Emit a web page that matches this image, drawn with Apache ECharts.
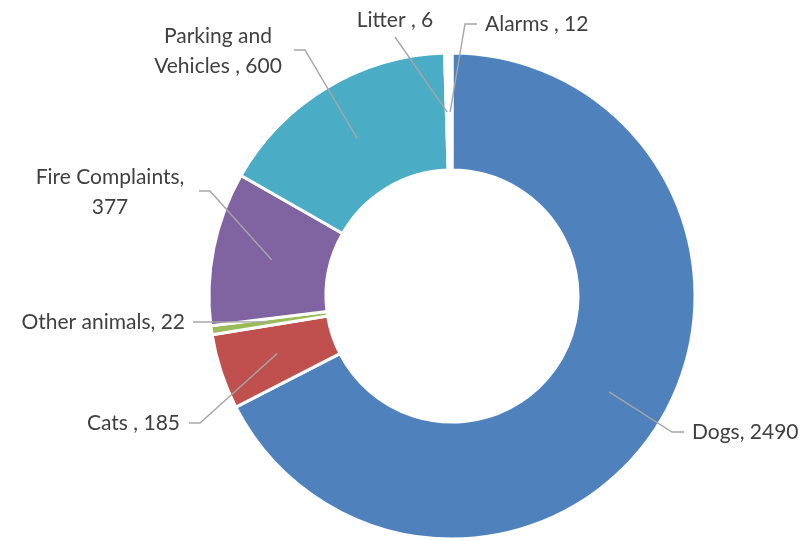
<!DOCTYPE html>
<html>
<head>
<meta charset="utf-8">
<script src="https://cdn.jsdelivr.net/npm/echarts@6/dist/echarts.min.js"></script>
<style>
html,body{margin:0;padding:0;background:#ffffff;}
#chart{width:802px;height:541px;}
</style>
</head>
<body>
<div id="chart"></div>
<script>
// ---- data ----
const categories = ['Dogs', 'Cats', 'Other animals', 'Fire Complaints', 'Parking and Vehicles', 'Litter', 'Alarms'];
const values = [2490, 185, 22, 377, 600, 6, 12];
const displayNames = ['Dogs', 'Cats', 'Other animals', 'Fire Complaints', 'Parking and\nVehicles', 'Litter', 'Alarms'];
const labelSeparators = [', ', ' , ', ', ', ',\n', ' , ', ' , ', ' , '];

// ---- style ----
const colors = ['#4F81BD', '#C0504D', '#9BBB59', '#8064A2', '#4BACC6', '#F79646', '#FFFFFF'];
const CENTER = [452, 296];
const RING = [126, 243];
const LEADER_R = 184;
// label placement (Excel-style manual placement)
const labelPlacement = {
  'Dogs':                 { x: 692, y: 432, align: 'left',   elbow: [672, 432], end: [684, 432] },
  'Cats':                 { x: 180, y: 423, align: 'right',  elbow: [200, 423], end: [189, 423] },
  'Other animals':        { x: 185, y: 322, align: 'right',  elbow: null,       end: [193, 322] },
  'Fire Complaints':      { x: 110, y: 192, align: 'center', elbow: [210, 191], end: [199, 191] },
  'Parking and Vehicles': { x: 218, y: 51,  align: 'center', elbow: [305, 50],  end: [294, 50] },
  'Litter':               { x: 395, y: 20,  align: 'center', elbow: null,       end: [395, 37] },
  'Alarms':               { x: 485, y: 24,  align: 'left',   elbow: [465, 24],  end: [477, 24] }
};

const total = values.reduce((a, b) => a + b, 0);
function fallbackStart(idx) {
  let before = 0;
  for (let i = 0; i < idx; i++) before += values[i];
  const mid = (before + values[idx] / 2) / total * Math.PI * 2;
  return [CENTER[0] + LEADER_R * Math.sin(mid), CENTER[1] - LEADER_R * Math.cos(mid)];
}

const donutData = categories.map((n, i) => ({ name: n, value: values[i], itemStyle: { color: colors[i] } }));
const labelData = categories.map((n, i) => ({ name: n, value: values[i] }));

const chart = echarts.init(document.getElementById('chart'), null, { renderer: 'canvas' });
chart.setOption({
  backgroundColor: '#ffffff',
  animation: false,
  series: [
    {
      type: 'pie',
      center: CENTER,
      radius: RING,
      startAngle: 90,
      clockwise: true,
      avoidLabelOverlap: false,
      silent: true,
      label: { show: false },
      labelLine: { show: false },
      itemStyle: { borderColor: '#ffffff', borderWidth: 3 },
      emphasis: { disabled: true },
      data: donutData,
      z: 2
    },
    {
      type: 'pie',
      center: CENTER,
      radius: [0, LEADER_R],
      startAngle: 90,
      clockwise: true,
      avoidLabelOverlap: false,
      silent: true,
      itemStyle: { color: 'rgba(0,0,0,0)', borderWidth: 0 },
      emphasis: { disabled: true },
      label: {
        show: true,
        position: 'outside',
        overflow: 'none',
        fontFamily: 'Lato',
        fontSize: 21,
        lineHeight: 30,
        color: '#404040',
        formatter: function (p) {
          return displayNames[p.dataIndex] + labelSeparators[p.dataIndex] + p.value;
        }
      },
      labelLine: {
        show: true,
        length: 20,
        length2: 10,
        lineStyle: { color: '#A6A6A6', width: 1.4 }
      },
      labelLayout: function (p) {
        const s = labelPlacement[categories[p.dataIndex]];
        const start = (p.labelLinePoints && p.labelLinePoints[0]) ? p.labelLinePoints[0] : fallbackStart(p.dataIndex);
        const pts = [start];
        if (s.elbow) pts.push(s.elbow);
        pts.push(s.end);
        return { x: s.x, y: s.y, align: s.align, verticalAlign: 'middle', labelLinePoints: pts };
      },
      data: labelData,
      z: 3
    }
  ]
});
</script>
</body>
</html>
